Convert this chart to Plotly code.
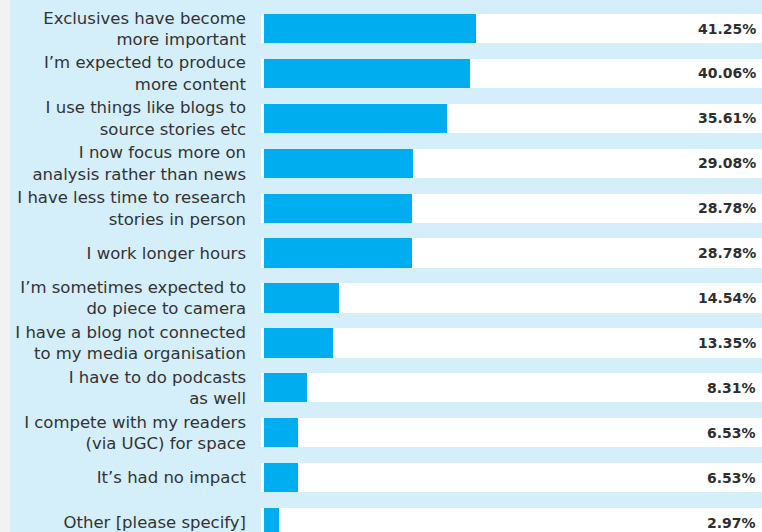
import plotly.graph_objects as go

categories = [
    "Exclusives have become<br>more important",
    "I’m expected to produce<br>more content",
    "I use things like blogs to<br>source stories etc",
    "I now focus more on<br>analysis rather than news",
    "I have less time to research<br>stories in person",
    "I work longer hours",
    "I’m sometimes expected to<br>do piece to camera",
    "I have a blog not connected<br>to my media organisation",
    "I have to do podcasts<br>as well",
    "I compete with my readers<br>(via UGC) for space",
    "It’s had no impact",
    "Other [please specify]",
]
values = [41.25, 40.06, 35.61, 29.08, 28.78, 28.78, 14.54, 13.35, 8.31, 6.53, 6.53, 2.97]
value_labels = [f"{v:.2f}%" for v in values]

X_MIN, X_MAX = -0.6, 97.1
BAR_COLOR = "#00adef"
PANEL = "#d4eefa"
TEXT = "#333333"

fig = go.Figure()
# white track behind each bar
fig.add_trace(go.Bar(
    y=categories, x=[X_MAX - X_MIN] * len(categories), base=X_MIN,
    orientation="h", marker=dict(color="white", line=dict(width=0)),
    width=0.65, hoverinfo="skip", showlegend=False,
))
fig.add_trace(go.Bar(
    y=categories, x=values, orientation="h",
    marker=dict(color=BAR_COLOR, line=dict(width=0)),
    width=0.65, showlegend=False,
))

for cat, lab in zip(categories, value_labels):
    fig.add_annotation(
        x=0.992, xref="paper", y=cat, yref="y", text=lab, showarrow=False,
        xanchor="right", yanchor="middle",
        font=dict(family="DejaVu Sans", size=14, color="#2e2e2e", weight="bold"),
    )

# grey strip at the far left of the image
fig.add_shape(type="rect", xref="paper", yref="paper",
              x0=-261 / 501, x1=-251 / 501, y0=0, y1=1,
              fillcolor="#f2f2f2", line=dict(width=0), layer="below")

fig.update_layout(
    width=762, height=532,
    margin=dict(l=261, r=0, t=0, b=0),
    paper_bgcolor=PANEL, plot_bgcolor=PANEL,
    barmode="overlay",
    bargap=0,
    xaxis=dict(range=[X_MIN, X_MAX], visible=False, fixedrange=True),
    yaxis=dict(
        type="category", range=[11.21, -0.635],
        showgrid=False, zeroline=False, showline=False,
        ticks="", ticklabelstandoff=14,
        tickfont=dict(family="DejaVu Sans", size=16.5, color=TEXT),
    ),
    font=dict(family="DejaVu Sans"),
)

fig.write_html("out.html", config={"displayModeBar": False},
               post_script="document.body.style.margin='0';")
